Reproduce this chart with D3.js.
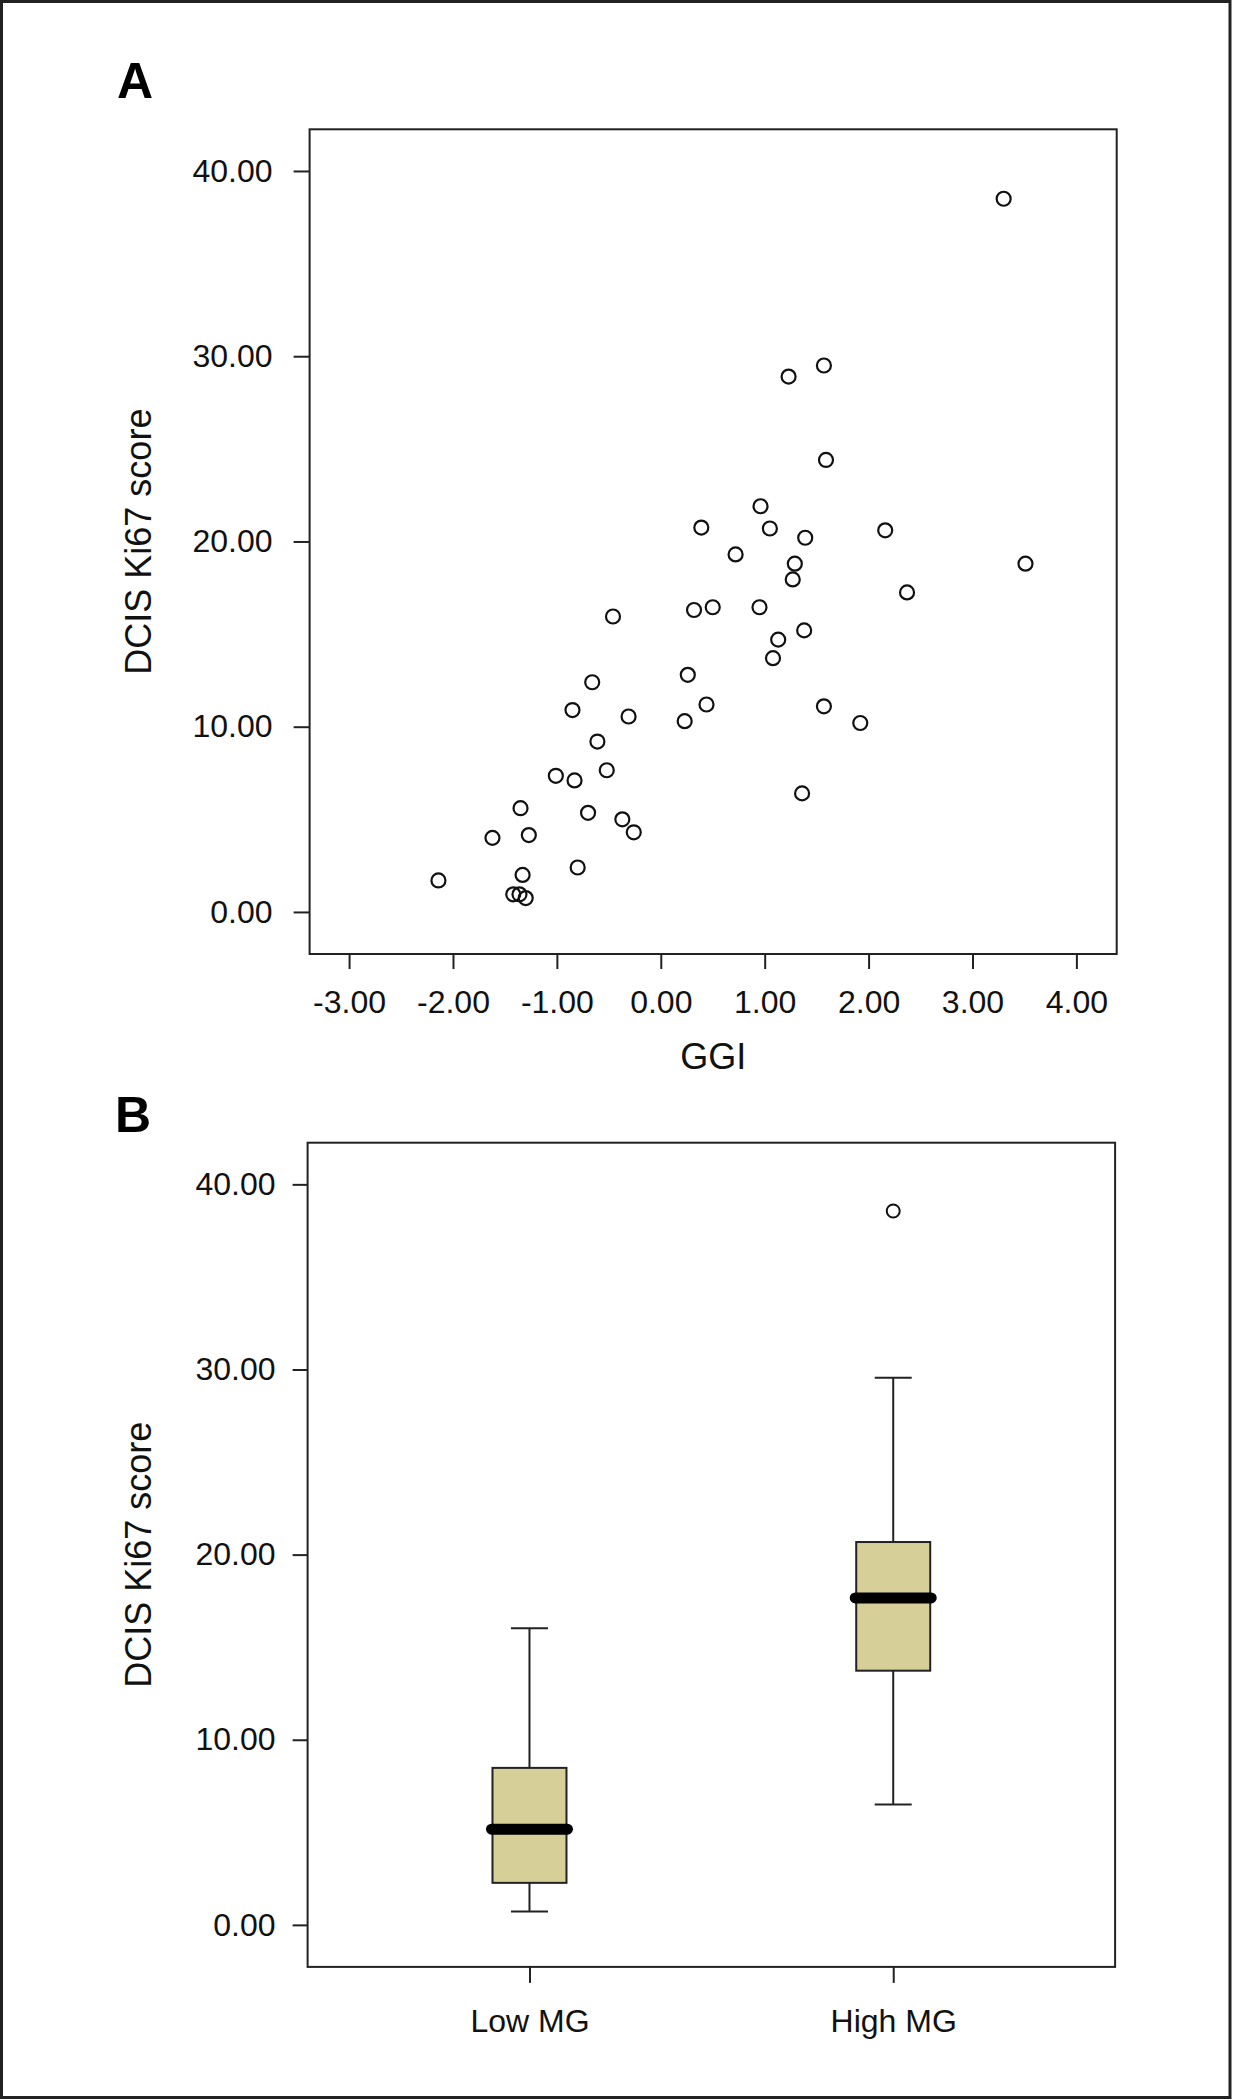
<!DOCTYPE html>
<html>
<head>
<meta charset="utf-8">
<script src="https://cdn.jsdelivr.net/npm/d3@7"></script>
<style>
  html, body { margin: 0; padding: 0; background: #fff; }
  svg { display: block; font-family: "Liberation Sans", Arial, Helvetica, sans-serif; }
</style>
</head>
<body>
<svg id="chart" width="1233" height="2100"></svg>
<script>
// ---------- Data ----------
// Panel A: scatter (GGI vs DCIS Ki67 score)
const ggi = [3.30, 1.23, 1.57, 1.59, 0.96, 1.05, 0.39, 1.39, 2.16, 0.72,
  -0.46, 0.32, 0.50, -0.66, 0.26, -0.85, -0.31, 0.44, 0.23, -0.61,
  -1.01, -0.83, -0.52, -1.35, -0.70, -0.37, -0.26, -1.62, -1.27, -0.80,
  -1.33, -2.14, -1.42, -1.36, -1.30, 1.29, 1.27, 2.37, 3.51, 0.95,
  1.38, 1.13, 1.08, 1.57, 1.92, 1.36];
const ki67 = [38.5, 28.9, 29.5, 24.4, 21.9, 20.7, 20.75, 20.2, 20.6, 19.3,
  15.95, 16.3, 16.45, 12.4, 12.8, 10.9, 10.55, 11.2, 10.3, 9.2,
  7.35, 7.1, 7.65, 5.6, 5.35, 5.0, 4.3, 4.0, 4.15, 2.4,
  2.0, 1.7, 0.95, 0.95, 0.75, 18.8, 17.95, 17.25, 18.8, 16.45,
  15.2, 14.7, 13.7, 11.1, 10.2, 6.4];
const xTicksA = [-3, -2, -1, 0, 1, 2, 3, 4];
const yTicks = [0, 10, 20, 30, 40];

// Panel B: box plot by MG group
const groups = ["Low MG", "High MG"];
const whiskerLow = [0.72, 6.5];
const q1 = [2.27, 13.73];
const median = [5.17, 17.66];
const q3 = [8.48, 20.68];
const whiskerHigh = [16.02, 29.56];
const outliers = [[], [38.56]];

// ---------- Layout ----------
const svg = d3.select("#chart");
const fmt = d => d.toFixed(2);
const tickFont = 32, titleFont = 36;

// outer border
svg.append("rect").attr("x", 1.5).attr("y", 1.5).attr("width", 1228.5).attr("height", 2096)
  .attr("fill", "none").attr("stroke", "#222").attr("stroke-width", 3);

function styleAxis(g) {
  g.select(".domain").remove();
  g.selectAll(".tick line").attr("stroke", "#222").attr("stroke-width", 2);
  g.selectAll(".tick text").attr("fill", "#111").style("font-size", tickFont + "px")
    .style("font-family", '"Liberation Sans", Arial, sans-serif');
}

// ---------- Panel A ----------
const A = { l: 309.6, r: 1116.7, t: 129.3, b: 954 };
const xA = d3.scaleLinear().domain([-3.38, 4.388]).range([A.l, A.r]);
const yA = d3.scaleLinear().domain([-2.27, 42.25]).range([A.b, A.t]);

svg.append("g").attr("transform", `translate(${A.l},0)`)
  .call(d3.axisLeft(yA).tickValues(yTicks).tickFormat(fmt).tickSize(16).tickPadding(21))
  .call(styleAxis);
svg.append("g").attr("transform", `translate(0,${A.b})`)
  .call(d3.axisBottom(xA).tickValues(xTicksA).tickFormat(fmt).tickSize(15).tickPadding(21))
  .call(styleAxis);

svg.append("rect").attr("x", A.l).attr("y", A.t).attr("width", A.r - A.l).attr("height", A.b - A.t)
  .attr("fill", "none").attr("stroke", "#222").attr("stroke-width", 2);

svg.append("g").selectAll("circle").data(ggi.map((g, i) => [g, ki67[i]])).join("circle")
  .attr("cx", d => xA(d[0])).attr("cy", d => yA(d[1])).attr("r", 7)
  .attr("fill", "none").attr("stroke", "#111").attr("stroke-width", 2.2);

svg.append("text").attr("x", 117).attr("y", 98).text("A")
  .style("font-size", "50px").style("font-weight", "bold").attr("fill", "#000");
svg.append("text").attr("x", (A.l + A.r) / 2).attr("y", 1069).attr("text-anchor", "middle")
  .style("font-size", titleFont + "px").attr("fill", "#111").text("GGI");
svg.append("text").attr("transform", `translate(151,${(A.t + A.b) / 2}) rotate(-90)`)
  .attr("text-anchor", "middle").style("font-size", titleFont + "px").attr("fill", "#111")
  .text("DCIS Ki67 score");

// ---------- Panel B ----------
const B = { l: 307.6, r: 1115.1, t: 1142.7, b: 1966.9 };
const xB = d3.scalePoint().domain(groups).range([B.l, B.r]).padding(0.61);
const yB = d3.scaleLinear().domain([-2.27, 42.25]).range([B.b, B.t]);

svg.append("g").attr("transform", `translate(${B.l},0)`)
  .call(d3.axisLeft(yB).tickValues(yTicks).tickFormat(fmt).tickSize(15).tickPadding(17))
  .call(styleAxis);
svg.append("g").attr("transform", `translate(0,${B.b})`)
  .call(d3.axisBottom(xB).tickSize(16).tickPadding(26))
  .call(styleAxis);

svg.append("rect").attr("x", B.l).attr("y", B.t).attr("width", B.r - B.l).attr("height", B.b - B.t)
  .attr("fill", "none").attr("stroke", "#222").attr("stroke-width", 2);

const boxW = 74, capW = 37;
const boxes = groups.map((g, i) => ({ g, lo: whiskerLow[i], q1: q1[i], med: median[i], q3: q3[i], hi: whiskerHigh[i], out: outliers[i] }));
const bg = svg.append("g").selectAll("g").data(boxes).join("g");
// whisker stems
bg.append("line").attr("x1", d => xB(d.g)).attr("x2", d => xB(d.g))
  .attr("y1", d => yB(d.hi)).attr("y2", d => yB(d.lo)).attr("stroke", "#222").attr("stroke-width", 2);
// caps
bg.selectAll(".cap").data(d => [[d.g, d.hi], [d.g, d.lo]]).join("line").attr("class", "cap")
  .attr("x1", d => xB(d[0]) - capW / 2).attr("x2", d => xB(d[0]) + capW / 2)
  .attr("y1", d => yB(d[1])).attr("y2", d => yB(d[1])).attr("stroke", "#222").attr("stroke-width", 2);
// box
bg.append("rect").attr("x", d => xB(d.g) - boxW / 2).attr("width", boxW)
  .attr("y", d => yB(d.q3)).attr("height", d => yB(d.q1) - yB(d.q3))
  .attr("fill", "#d6cf98").attr("stroke", "#222").attr("stroke-width", 2);
// median
bg.append("line").attr("x1", d => xB(d.g) - boxW / 2 - 1).attr("x2", d => xB(d.g) + boxW / 2 + 1)
  .attr("y1", d => yB(d.med)).attr("y2", d => yB(d.med))
  .attr("stroke", "#000").attr("stroke-width", 11).attr("stroke-linecap", "round");
// outliers
bg.selectAll(".out").data(d => d.out.map(v => [d.g, v])).join("circle").attr("class", "out")
  .attr("cx", d => xB(d[0])).attr("cy", d => yB(d[1])).attr("r", 6.5)
  .attr("fill", "none").attr("stroke", "#111").attr("stroke-width", 2);

svg.append("text").attr("x", 115).attr("y", 1131.7).text("B")
  .style("font-size", "50px").style("font-weight", "bold").attr("fill", "#000");
svg.append("text").attr("transform", `translate(151,${(B.t + B.b) / 2}) rotate(-90)`)
  .attr("text-anchor", "middle").style("font-size", titleFont + "px").attr("fill", "#111")
  .text("DCIS Ki67 score");
</script>
</body>
</html>
